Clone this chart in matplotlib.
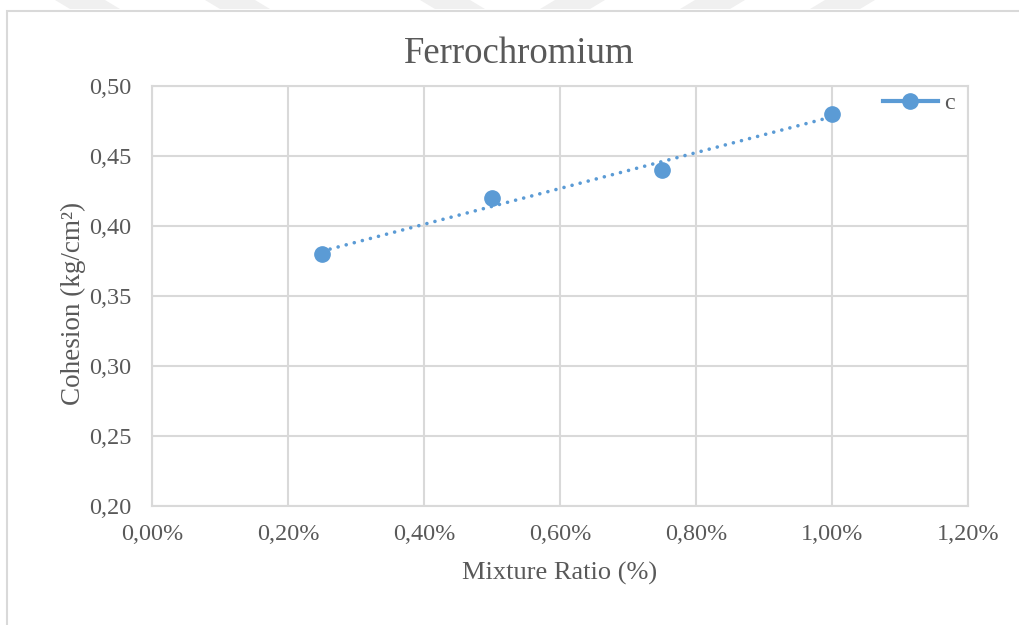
import matplotlib.pyplot as plt
from matplotlib.ticker import FuncFormatter
from matplotlib.patches import Rectangle, Polygon
import numpy as np

plt.rcParams['font.family'] = ['Liberation Serif', 'DejaVu Serif']

mixture = [0.0025, 0.0050, 0.0075, 0.0100]
cohesion = [0.38, 0.42, 0.44, 0.48]
xticks = [0.0, 0.002, 0.004, 0.006, 0.008, 0.010, 0.012]
yticks = [0.20, 0.25, 0.30, 0.35, 0.40, 0.45, 0.50]

blue = '#5B9BD5'
grey = '#595959'
gridc = '#D9D9D9'

W, H = 1019, 625
fig = plt.figure(figsize=(W / 100, H / 100), dpi=100)

# faint watermark stripes at the top edge
stripes = [(55, 15), (205, 15), (420, 15), (555, -15), (695, -15), (825, -15)]
for x0, sh in stripes:
    pts = [(x0, 0), (x0 + 50, 0), (x0 + 50 + sh, 9), (x0 + sh, 9)]
    fig.patches.append(Polygon([(px / W, 1 - py / H) for px, py in pts], closed=True,
                               transform=fig.transFigure, facecolor='#F0F0F0', edgecolor='none'))
# chart frame
fig.patches.append(Rectangle((7 / W, -0.05), 1.1, 1 - 10.5 / H + 0.05, transform=fig.transFigure,
                             facecolor='none', edgecolor=gridc, linewidth=1.5))

ax = fig.add_axes([152 / W, 1 - 506 / H, (968 - 152) / W, (506 - 86) / H])
ax.set_xlim(0, 0.012)
ax.set_ylim(0.20, 0.50)
ax.set_xticks(xticks)
ax.set_yticks(yticks)
ax.xaxis.set_major_formatter(FuncFormatter(lambda v, p: f"{v * 100:.2f}%".replace('.', ',')))
ax.yaxis.set_major_formatter(FuncFormatter(lambda v, p: f"{v:.2f}".replace('.', ',')))
ax.grid(True, color=gridc, linewidth=1.5)
ax.set_axisbelow(True)
for s in ax.spines.values():
    s.set_color(gridc)
    s.set_linewidth(1.5)
ax.tick_params(length=0, labelsize=17.5, colors=grey)
ax.tick_params(axis='y', pad=15)
ax.tick_params(axis='x', pad=13)

# linear trendline
k, b = np.polyfit(mixture, cohesion, 1)
xs = np.array([mixture[0], mixture[-1]])
ax.plot(xs, k * xs + b, linestyle=(0, (0.01, 2.3)), color=blue, linewidth=2.6,
        dash_capstyle='round', solid_capstyle='round')

ax.plot(mixture, cohesion, 'o', color=blue, markersize=11, zorder=3)
leg_handle, = ax.plot([], [], color=blue, linewidth=3, marker='o', markersize=11)

ax.legend([leg_handle], ['c'], loc='center left', bbox_to_anchor=(883 / W, 1 - 103 / H),
          bbox_transform=fig.transFigure, frameon=False, fontsize=17.5, labelcolor=grey,
          handlelength=2.25, handletextpad=0.25, borderpad=0, borderaxespad=0)

fig.text(519 / W, 1 - 54 / H, 'Ferrochromium', fontsize=26.5, color=grey, ha='center', va='center')
fig.text(560 / W, 1 - 573 / H, 'Mixture Ratio (%)', fontsize=19, color=grey, ha='center', va='center')
fig.text(73 / W, 1 - 303 / H, 'Cohesion (kg/cm²)', fontsize=19.5, color=grey, ha='center', va='center',
         rotation=90)

fig.savefig('out.png', dpi=100)
